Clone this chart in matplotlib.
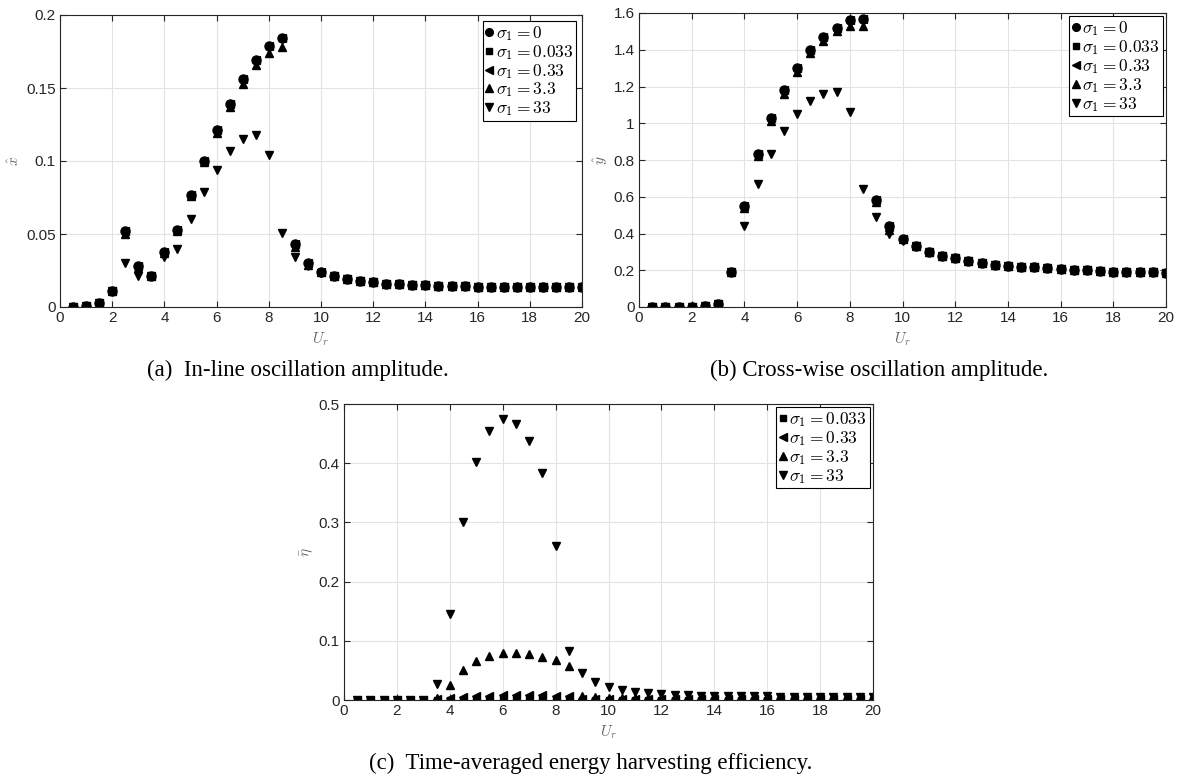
import numpy as np
import matplotlib
matplotlib.use('Agg')
import matplotlib.pyplot as plt

plt.rcParams['font.family'] = ['Liberation Sans', 'DejaVu Sans']
plt.rcParams['mathtext.fontset'] = 'cm'

# reduced velocity
ur = np.arange(0.5, 20.01, 0.5)

# in-line amplitude
x_s0 = [0.000, 0.001, 0.003, 0.011, 0.052, 0.028, 0.021, 0.038, 0.053, 0.077,
        0.100, 0.121, 0.139, 0.156, 0.169, 0.179, 0.184, 0.043, 0.030, 0.024,
        0.021, 0.019, 0.018, 0.017, 0.016, 0.0155, 0.015, 0.015, 0.0145, 0.0145,
        0.0142, 0.014, 0.014, 0.0138, 0.0138, 0.0136, 0.0136, 0.0135, 0.0135, 0.0135]
x_s3 = [0.000, 0.001, 0.003, 0.011, 0.050, 0.027, 0.021, 0.037, 0.052, 0.076,
        0.099, 0.119, 0.137, 0.153, 0.166, 0.174, 0.178, 0.041, 0.029, 0.024,
        0.021, 0.019, 0.018, 0.017, 0.016, 0.0155, 0.015, 0.015, 0.0145, 0.0145,
        0.0142, 0.014, 0.014, 0.0138, 0.0138, 0.0136, 0.0136, 0.0135, 0.0135, 0.0135]
x_s33 = [0.000, 0.001, 0.003, 0.011, 0.030, 0.021, 0.021, 0.034, 0.040, 0.060,
         0.079, 0.094, 0.107, 0.115, 0.118, 0.104, 0.051, 0.034, 0.028, 0.023,
         0.021, 0.019, 0.018, 0.017, 0.016, 0.0155, 0.015, 0.015, 0.0145, 0.0145,
         0.0142, 0.014, 0.014, 0.0138, 0.0138, 0.0136, 0.0136, 0.0135, 0.0135, 0.0135]

# cross-wise amplitude
y_s0 = [0.002, 0.002, 0.002, 0.002, 0.004, 0.015, 0.19, 0.55, 0.83, 1.03,
        1.18, 1.30, 1.40, 1.47, 1.52, 1.56, 1.57, 0.58, 0.44, 0.37,
        0.33, 0.30, 0.28, 0.265, 0.25, 0.24, 0.23, 0.225, 0.22, 0.215,
        0.21, 0.205, 0.20, 0.20, 0.195, 0.193, 0.19, 0.19, 0.188, 0.185]
y_s3 = [0.002, 0.002, 0.002, 0.002, 0.004, 0.015, 0.19, 0.54, 0.82, 1.01,
        1.16, 1.28, 1.38, 1.45, 1.50, 1.53, 1.53, 0.57, 0.42, 0.37,
        0.33, 0.30, 0.28, 0.265, 0.25, 0.24, 0.23, 0.225, 0.22, 0.215,
        0.21, 0.205, 0.20, 0.20, 0.195, 0.193, 0.19, 0.19, 0.188, 0.185]
y_s33 = [0.002, 0.002, 0.002, 0.002, 0.004, 0.015, 0.19, 0.44, 0.67, 0.83,
         0.96, 1.05, 1.12, 1.16, 1.17, 1.06, 0.64, 0.49, 0.40, 0.36,
         0.33, 0.30, 0.28, 0.265, 0.25, 0.24, 0.23, 0.225, 0.22, 0.215,
         0.21, 0.205, 0.20, 0.20, 0.195, 0.193, 0.19, 0.19, 0.188, 0.185]

# energy harvesting efficiency
e_s0033 = [0, 0, 0, 0, 0, 0, 0.0002, 0.0005, 0.0008, 0.001,
           0.001, 0.001, 0.001, 0.001, 0.001, 0.001, 0.001, 0.0003, 0.0002, 0.0002,
           0.0001, 0.0001, 0.0001, 0.0001, 0.0001, 0.0001, 0.0001, 0.0001, 0.0001, 0.0001,
           0.0001, 0.0001, 0.0001, 0.0001, 0.0001, 0.0001, 0.0001, 0.0001, 0.0001, 0.0001]
e_s033 = [0, 0, 0, 0, 0, 0, 0.001, 0.003, 0.005, 0.006,
          0.007, 0.008, 0.008, 0.008, 0.008, 0.007, 0.006, 0.001, 0.001, 0.001,
          0.001, 0.001, 0.001, 0.001, 0.001, 0.001, 0.001, 0.001, 0.001, 0.001,
          0.001, 0.001, 0.001, 0.001, 0.001, 0.001, 0.001, 0.001, 0.001, 0.001]
e_s33 = [0, 0, 0, 0, 0, 0, 0.003, 0.025, 0.050, 0.066,
         0.075, 0.079, 0.079, 0.077, 0.073, 0.067, 0.057, 0.007, 0.005, 0.004,
         0.004, 0.003, 0.003, 0.003, 0.003, 0.002, 0.002, 0.002, 0.002, 0.002,
         0.002, 0.002, 0.002, 0.002, 0.002, 0.002, 0.002, 0.002, 0.002, 0.002]
e_s330 = [0, 0, 0, 0, 0, 0, 0.027, 0.146, 0.300, 0.402,
          0.454, 0.474, 0.466, 0.437, 0.384, 0.260, 0.083, 0.046, 0.031, 0.022,
          0.017, 0.014, 0.012, 0.010, 0.009, 0.008, 0.007, 0.007, 0.006, 0.006,
          0.006, 0.006, 0.005, 0.005, 0.005, 0.005, 0.005, 0.005, 0.005, 0.005]

labels = [r'$\sigma_1 = 0$', r'$\sigma_1 = 0.033$', r'$\sigma_1 = 0.33$',
          r'$\sigma_1 = 3.3$', r'$\sigma_1 = 33$']
markers = ['o', 's', '<', '^', 'v']
# matplotlib squares come out bigger than MATLAB's, shrink a bit
msizes = [6.5, 5.0, 6.0, 6.0, 6.0]

TXT = '#262626'
W, H = 1178, 779


def style_axes(ax, ylim, yticks, yticklabels, ylabel, h_px):
    ax.set_xlim(0, 20)
    ax.set_ylim(*ylim)
    ax.set_xticks(range(0, 21, 2))
    ax.set_yticks(yticks)
    ax.set_yticklabels(yticklabels)
    ax.grid(True, color='#e3e3e3', linewidth=0.8)
    ax.set_axisbelow(True)
    ax.tick_params(direction='in', top=True, right=True, length=4,
                   labelsize=11, colors=TXT, pad=3)
    for sp in ax.spines.values():
        sp.set_color(TXT)
        sp.set_linewidth(0.8)
    ax.set_xlabel(r'$U_r$', fontsize=11, color='#666666', va='center')
    ax.xaxis.set_label_coords(0.5, -32 / h_px)
    ax.set_ylabel(ylabel, fontsize=11, color='#666666', labelpad=3)


def add_legend(ax, pad):
    leg = ax.legend(loc='upper right', prop={'size': 12.5}, frameon=True,
                    fancybox=False, edgecolor='black', framealpha=1,
                    handlelength=0.45, handletextpad=0.15, borderpad=0.15,
                    labelspacing=0.0, borderaxespad=pad, markerscale=0.85)
    leg.get_frame().set_linewidth(0.8)


def draw(ax, series, marks, sizes, labs):
    for d, m, s, lab in zip(series, marks, sizes, labs):
        ax.plot(ur, d, linestyle='none', marker=m, color='black', ms=s, label=lab)


fig = plt.figure(figsize=(11.78, 7.79), dpi=100)

ax1 = fig.add_axes([60 / W, 1 - 307 / H, 522 / W, 292 / H])
ax2 = fig.add_axes([639 / W, 1 - 307 / H, 527 / W, 294 / H])
ax3 = fig.add_axes([344 / W, 1 - 700 / H, 529 / W, 296 / H])

draw(ax1, [x_s0, x_s0, x_s0, x_s3, x_s33], markers, msizes, labels)
style_axes(ax1, (0, 0.2), [0, 0.05, 0.1, 0.15, 0.2],
           ['0', '0.05', '0.1', '0.15', '0.2'], r'$\hat{x}$', 292)
add_legend(ax1, 0.35)

draw(ax2, [y_s0, y_s0, y_s0, y_s3, y_s33], markers, msizes, labels)
style_axes(ax2, (0, 1.6), [0, 0.2, 0.4, 0.6, 0.8, 1.0, 1.2, 1.4, 1.6],
           ['0', '0.2', '0.4', '0.6', '0.8', '1', '1.2', '1.4', '1.6'],
           r'$\hat{y}$', 294)
add_legend(ax2, 0.2)

draw(ax3, [e_s0033, e_s033, e_s33, e_s330], markers[1:], msizes[1:], labels[1:])
style_axes(ax3, (0, 0.5), [0, 0.1, 0.2, 0.3, 0.4, 0.5],
           ['0', '0.1', '0.2', '0.3', '0.4', '0.5'], r'$\bar{\eta}$', 296)
add_legend(ax3, 0.2)

cap = dict(fontsize=16.5, family='Liberation Serif', ha='center', va='center')
fig.text(298 / W, 1 - 370 / H, '(a)  In-line oscillation amplitude.', **cap)
fig.text(879 / W, 1 - 370 / H, '(b) Cross-wise oscillation amplitude.', **cap)
fig.text(591 / W, 1 - 763 / H, '(c)  Time-averaged energy harvesting efficiency.', **cap)

fig.savefig('out.png', dpi=100)
